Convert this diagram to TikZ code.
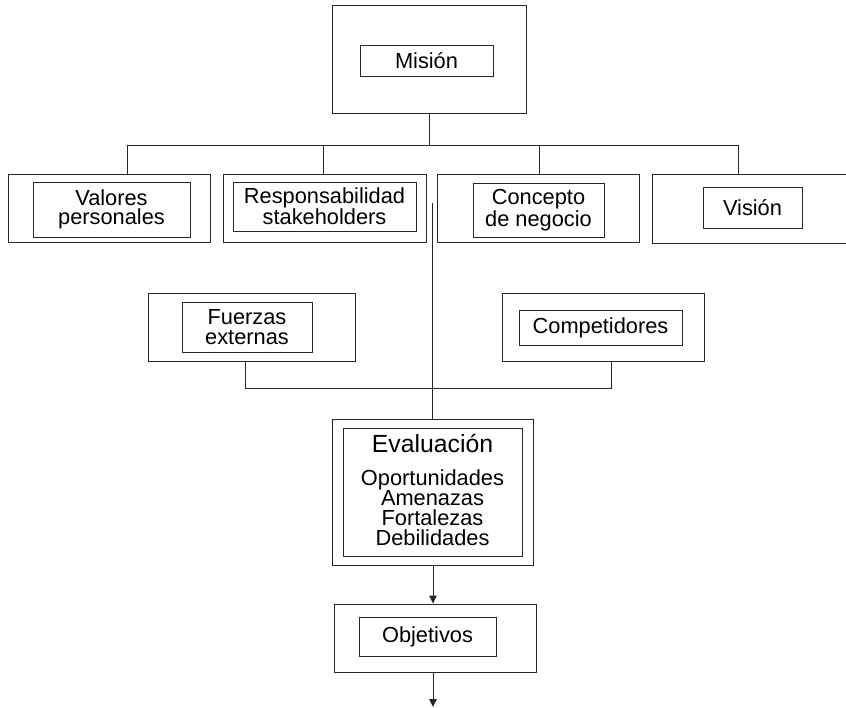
\documentclass[tikz,border=0pt]{standalone}
\usepackage{fontspec}
\setmainfont{Liberation Sans}
\usetikzlibrary{arrows.meta}

\tikzset{
  line/.style={draw=black!85, line width=0.9pt},
  outerbox/.style={line, rectangle, inner sep=0pt, anchor=center},
  innerbox/.style={line, rectangle, inner sep=0pt, anchor=center, align=center,
                   font=\fontsize{21.8}{19.7}\selectfont},
  arrowline/.style={line, -{Triangle[length=8pt,width=7.5pt]}},
  bigtext/.style={font=\fontsize{24.8}{26}\selectfont, inner sep=0pt},
  listtext/.style={font=\fontsize{21.8}{19.7}\selectfont, inner sep=0pt, align=center}
}

\begin{document}
\begin{tikzpicture}[x=1pt,y=-1pt]
\useasboundingbox (0,0) rectangle (846,708);
\clip (0,0) rectangle (846,708);

% Mission
\node[outerbox, minimum width=194pt, minimum height=108pt] (mision) at (429,59) {};
\node[innerbox, minimum width=133pt, minimum height=31pt] (misionin) at (426.5,60.5) {Misión};

% Row of four
\node[outerbox, minimum width=202pt, minimum height=68pt] (valores) at (109,208) {};
\node[innerbox, minimum width=157pt, minimum height=55pt] (valoresin) at (111.5,209.5) {Valores\\personales};

\node[outerbox, minimum width=203pt, minimum height=68pt] (resp) at (324.5,208) {};
\node[innerbox, minimum width=183pt, minimum height=49pt] (respin) at (324.5,206.5) {Responsabilidad\\stakeholders};

\node[outerbox, minimum width=202pt, minimum height=68pt] (concepto) at (538,208) {};
\node[innerbox, minimum width=131pt, minimum height=54pt] (conceptoin) at (538.5,210) {Concepto\\de negocio};

\node[outerbox, minimum width=200pt, minimum height=69pt] (vision) at (752,208.5) {};
\node[innerbox, minimum width=99pt, minimum height=41pt] (visionin) at (752.5,207.5) {Visión};

% External analysis
\node[outerbox, minimum width=207pt, minimum height=68pt] (fuerzas) at (251.5,327) {};
\node[innerbox, minimum width=130pt, minimum height=50pt] (fuerzasin) at (247,327) {Fuerzas\\externas};

\node[outerbox, minimum width=202pt, minimum height=68pt] (comp) at (603,327) {};
\node[innerbox, minimum width=163pt, minimum height=35pt] (compin) at (600.5,327.5) {Competidores};

% Evaluation
\node[outerbox, minimum width=201pt, minimum height=146pt] (eval) at (432.5,492) {};
\node[outerbox, minimum width=179pt, minimum height=128pt] (evalin) at (432.5,492) {};
\node[bigtext, anchor=base] (evaltitle) at (432.5,452) {Evaluación};
\node[listtext, anchor=base] (evallist) at (432.5,545) {Oportunidades\\Amenazas\\Fortalezas\\Debilidades};

% Objectives
\node[outerbox, minimum width=202pt, minimum height=68pt] (obj) at (435,638) {};
\node[innerbox, minimum width=137pt, minimum height=39pt] (objin) at (427.5,636.5) {Objetivos};

% Bus from the mission to the four boxes
\coordinate (bv) at (127,145);
\coordinate (br) at (323,145);
\coordinate (bc) at (539,145);
\coordinate (bw) at (738,145);
\draw[line] (mision.south) -- (mision.south |- bv);
\draw[line] (bv) -- (bw);
\draw[line] (bv) -- (bv |- valores.north);
\draw[line] (br) -- (br |- resp.north);
\draw[line] (bc) -- (bc |- concepto.north);
\draw[line] (bw) -- (bw |- vision.north);

% Line into the evaluation
\coordinate (src) at (432,203);
\draw[line] (src) -- (src |- eval.north);

% External forces join
\coordinate (fb) at (245,388);
\coordinate (cb) at (611,388);
\draw[line] (fb |- fuerzas.south) -- (fb) -- (cb) -- (cb |- comp.south);

% Arrows downwards
\coordinate (end) at (433,707);
\draw[arrowline] (end |- eval.south) -- (end |- obj.north);
\draw[arrowline] (end |- obj.south) -- (end);
\end{tikzpicture}
\end{document}
